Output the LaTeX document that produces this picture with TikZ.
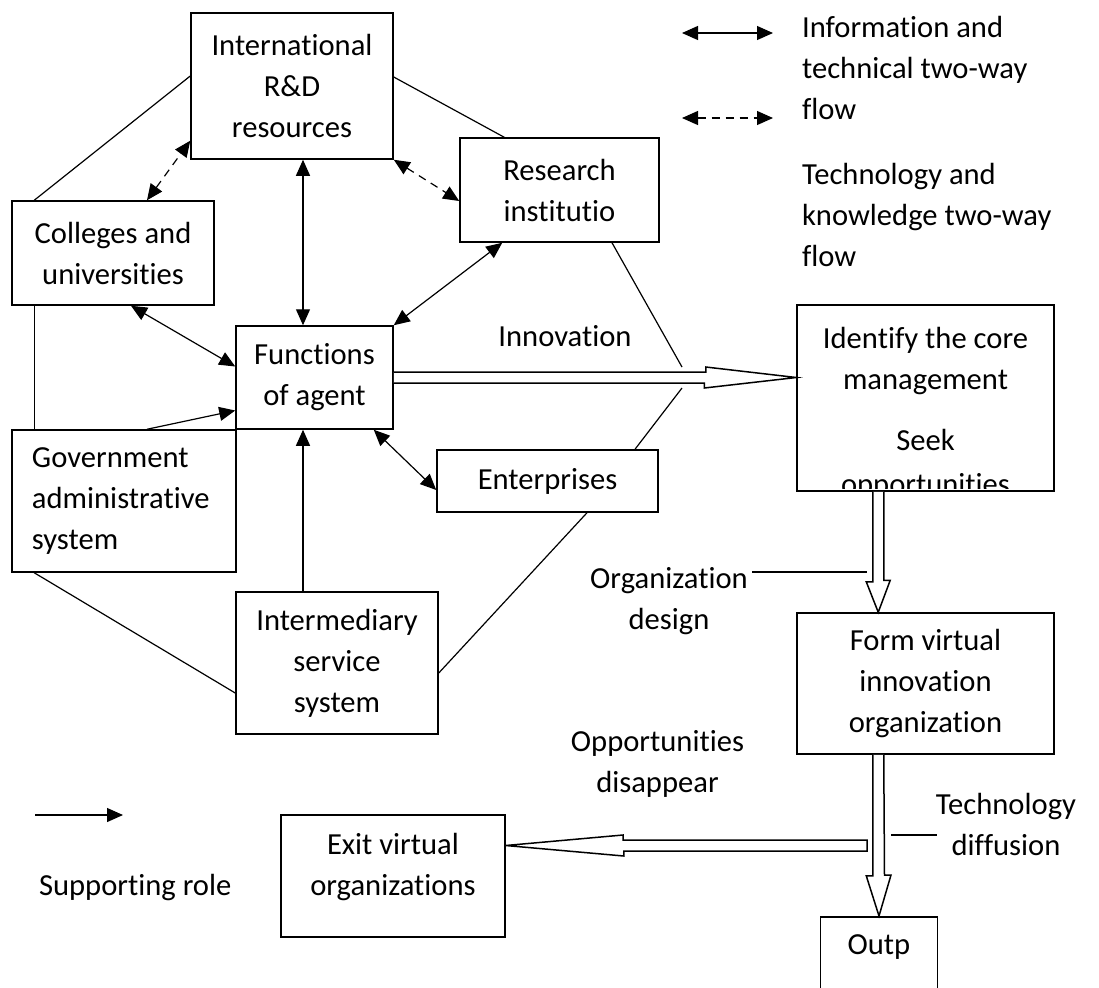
\documentclass[tikz,border=0pt]{standalone}
\usepackage{fontspec}
\setmainfont{Carlito}[Ligatures=NoCommon]
\usetikzlibrary{calc,arrows.meta}

\begin{document}
\begin{tikzpicture}[x=0.5pt,y=-0.5pt,
  font=\fontsize{15.3}{20.5}\selectfont,
  box/.style={draw,line width=0.75pt,align=center,inner sep=0pt},
  con/.style={line width=0.6pt},
  both/.style={con,{Triangle[length=8pt,width=7pt]}-{Triangle[length=8pt,width=7pt]}},
  dbl/.style={both,dash pattern=on 4pt off 3pt},
  one/.style={con,-{Triangle[length=8pt,width=7pt]}},
  fat/.style={line width=0.75pt,fill=white}]
\fill[white] (0,0) rectangle (1099,987);
\useasboundingbox (0,0) rectangle (1099,987);

% boxes
\node[box,minimum width=101pt,minimum height=73pt] (intl) at (292,86) {International\\R\&D\\resources};
\node[box,minimum width=99.5pt,minimum height=52pt] (research) at (559.5,190) {Research\\institutio};
\node[box,minimum width=101pt,minimum height=52pt] (colleges) at (113,253) {Colleges and\\universities};
\node[box,minimum width=78.5pt,minimum height=51.5pt] (agent) at (314.5,377.5) {Functions\\of agent};
\node[box,align=left,text width=92pt,inner xsep=10pt,minimum height=71pt] (govt) at (124,501) {Government\\administrative\\system};
\node[box,minimum width=110.5pt,minimum height=31pt] (enterp) at (547.5,481) {Enterprises};
\node[box,minimum width=101pt,minimum height=71pt] (intermed) at (337,663) {Intermediary\\service\\system};
\node[box,minimum width=128.5pt,minimum height=93pt] (identify) at (925.5,398) {};
\begin{scope}
\clip (identify.north west) rectangle ($(identify.south east)+(0,-3)$);
\node[align=center] (identtxt) at (925.5,413.5) {Identify the core\\management\\[10pt]Seek\\[1.5pt]opportunities};
\end{scope}
\node[box,minimum width=128.5pt,minimum height=70.5pt] (form) at (925.5,683.5) {Form virtual\\innovation\\organization};
\node[box,minimum width=112pt,minimum height=61pt] (exitv) at (393,876) {};
\node[align=center] (exittxt) at (393,867) {Exit virtual\\organizations};
\node[box,anchor=north,minimum width=58.5pt,minimum height=60pt] (outp) at (879,916) {};
\node (outptxt) at (879,947) {Outp};

% plain links
\draw[con] ($(colleges.north west)+(23,0)$) -- ($(intl.west)+(0,-10)$);
\draw[con] ($(intl.east)+(0,-9)$) -- ($(research.north west)+(45,0)$);
\draw[con] ($(colleges.south west)+(23,0)$) -- ($(govt.north west)+(23,0)$);
\draw[con] ($(govt.south west)+(23,0)$) -- ($(intermed.west)+(0,30)$);
\draw[con] ($(intermed.east)+(0,10)$) -- ($(enterp.south)+(39.5,0)$);
\coordinate (c1) at (682,367);
\coordinate (c2) at (682,388);
\draw[con] ($(research.south)+(52.5,0)$) -- (c1);
\draw[con] ($(enterp.north)+(87.5,0)$) -- (c2);

% flows
\coordinate (vx) at (303,0);
\draw[dbl] ($(colleges.north)+(34,0)$) -- ($(intl.south west)+(0,-19)$);
\draw[dbl] (intl.south east) -- ($(research.west)+(0,11)$);
\draw[both] (vx |- intl.south) -- (vx |- agent.north);
\draw[both] ($(research.south west)+(43,0)$) -- (agent.north east);
\draw[both] ($(colleges.south)+(18,0)$) -- ($(agent.west)+(0,-11)$);
\draw[both] ($(agent.south east)+(-20,0)$) -- ($(enterp.west)+(0,9)$);
\draw[one] ($(govt.north)+(23,0)$) -- ($(agent.west)+(0,33)$);
\draw[one] (vx |- intermed.north) -- (vx |- agent.south);

% hollow arrows
\draw[fat] ($(agent.east)+(0,-5.5)$) -- ++(312,0) -- ++(0,-5) -- (identify.west |- agent.east) -- ++(-92,10.5) -- ++(0,-5) -- ($(agent.east)+(0,5.5)$);
\draw[fat] ($(identify.south west)+(76.5,0)$) -- ++(0,90) -- ++(-6.5,0) -- ($(form.north west)+(82,0)$) -- ++(12,-32) -- ++(-6.5,0) -- ($(identify.south west)+(87.5,0)$);
\draw[fat] ($(form.south west)+(76.5,0)$) -- ++(0,121) -- ++(-6.5,0) -- (outp.north) -- ++(12,-41) -- ++(-6.5,0) -- ($(form.south west)+(87.5,0)$);
\coordinate (split) at (867,845.5);
\draw[fat] ($(split)+(0,-5.5)$) -- ++(-244,0) -- ++(0,-5) -- (exitv.east |- split) -- ++(118,10.5) -- ++(0,-5) -- ($(split)+(0,5.5)$) -- cycle;

% labels
\node (innov) at (565,336) {Innovation};
\node[align=center] (orgdes) at (669,601) {Organization\\design};
\coordinate (od1) at (752,572);
\coordinate (od2) at (867,572);
\draw[con] (od1) -- (od2);
\node[align=center] (oppdis) at (657.5,764) {Opportunities\\disappear};
\node[align=center] (techdif) at (1006,824) {Technology\\diffusion};
\coordinate (td1) at (891,835);
\coordinate (td2) at (937,835);
\draw[con] (td1) -- (td2);

% legend
\coordinate (lgA) at (682,33);
\coordinate (lgB) at (773,33);
\draw[both] (lgA) -- (lgB);
\coordinate (lgC) at (682,118);
\coordinate (lgD) at (773,118);
\draw[dbl] (lgC) -- (lgD);
\node[anchor=west,align=left] (lgtxt1) at (795,68) {Information and\\technical two-way\\flow};
\node[anchor=west,align=left] (lgtxt2) at (795,215) {Technology and\\knowledge two-way\\flow};
\coordinate (lgE) at (35,815);
\coordinate (lgF) at (123,815);
\draw[one] (lgE) -- (lgF);
\node[anchor=west] (lgtxt3) at (32,887) {Supporting role};
\end{tikzpicture}
\end{document}
